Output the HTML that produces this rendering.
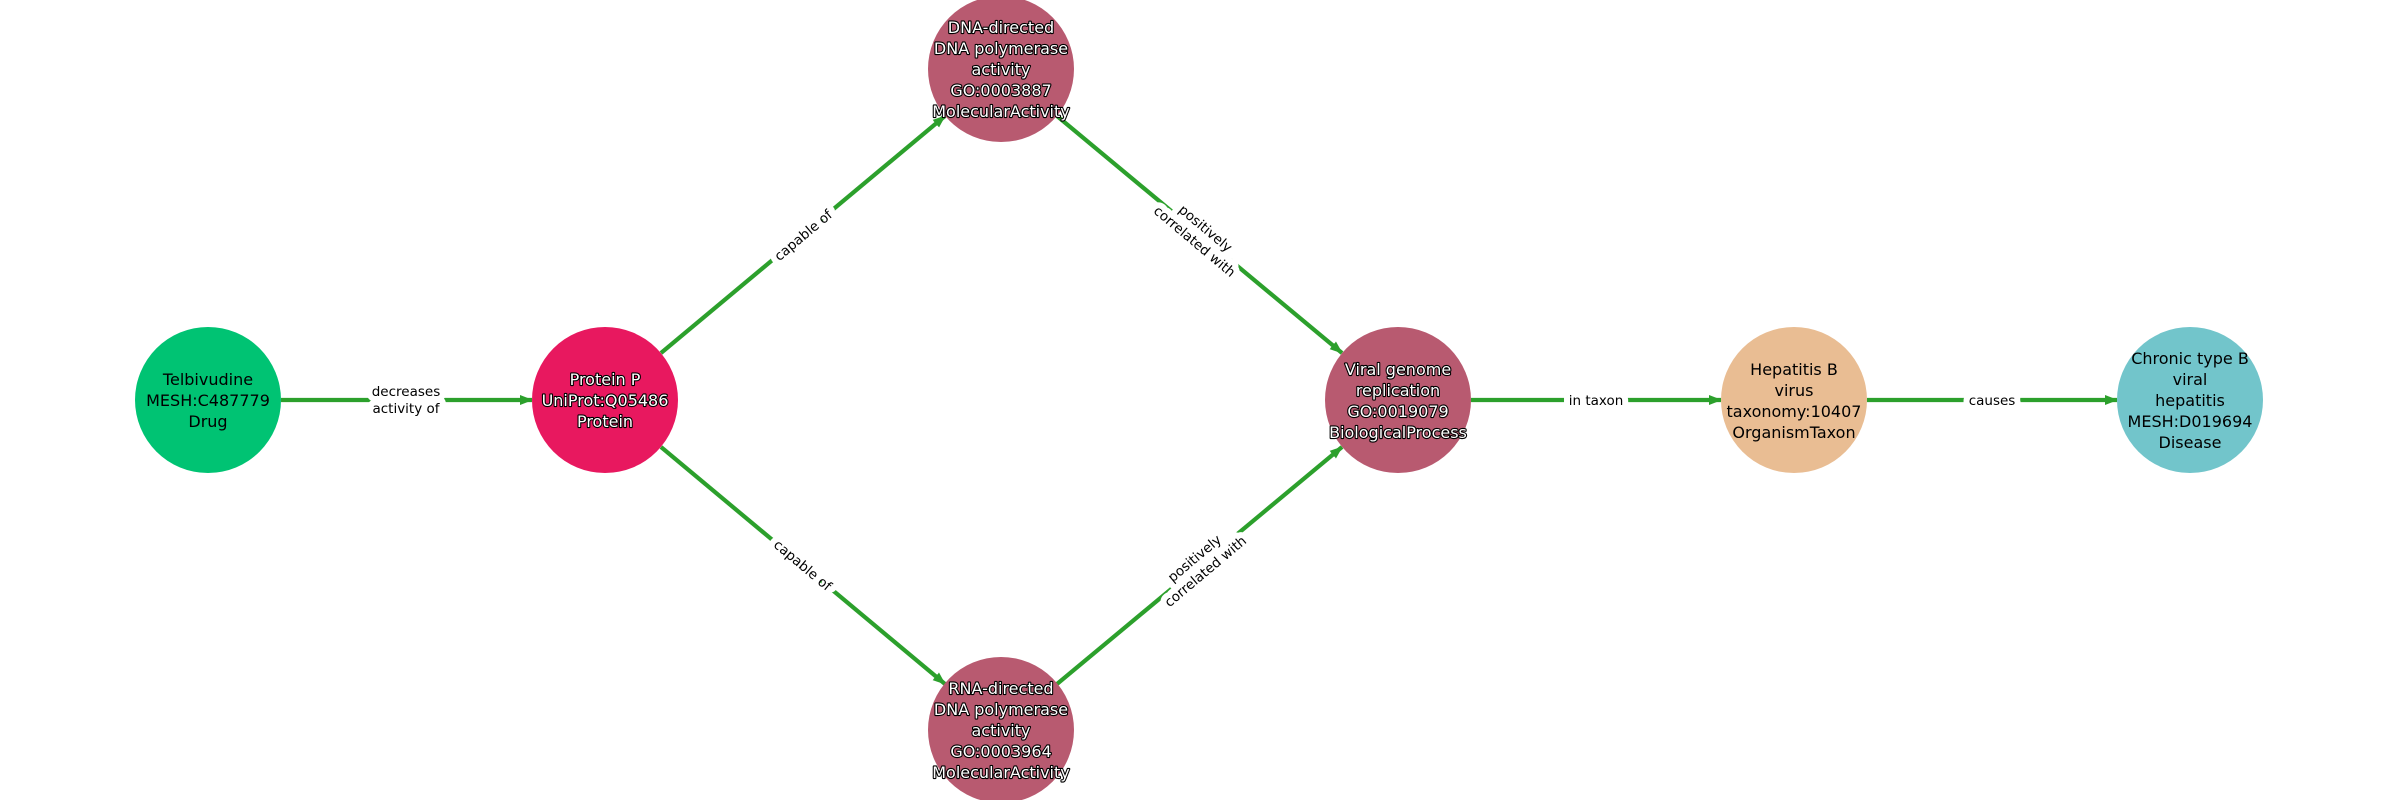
<!DOCTYPE html>
<html><head><meta charset="utf-8"><style>
html,body{margin:0;padding:0;background:#fff;}
svg{display:block;}
.n{font-family:"DejaVu Sans","Liberation Sans",sans-serif;font-size:16px;text-anchor:middle;}
.w{fill:#fff;stroke:#000;stroke-width:2.2px;paint-order:stroke;stroke-linejoin:round;}
.b{fill:#000;}
.e{font-family:"DejaVu Sans","Liberation Sans",sans-serif;font-size:13.5px;text-anchor:middle;fill:#000;stroke:#fff;stroke-width:12px;paint-order:stroke;stroke-linejoin:round;}
line{stroke:#2ca02c;stroke-width:4.2;}
</style></head><body>
<svg width="2400" height="800" viewBox="0 0 2400 800" xmlns="http://www.w3.org/2000/svg">
<defs><marker id="a" markerWidth="13" markerHeight="10" refX="12" refY="5" orient="auto" markerUnits="userSpaceOnUse"><path d="M0,0 L13,5 L0,10 z" fill="#2ca02c"/></marker></defs>
<line x1="281" y1="400" x2="532" y2="400" marker-end="url(#a)"/>
<line x1="661" y1="353" x2="945" y2="116" marker-end="url(#a)"/>
<line x1="661" y1="447" x2="945" y2="684" marker-end="url(#a)"/>
<line x1="1057" y1="116" x2="1342" y2="353" marker-end="url(#a)"/>
<line x1="1057" y1="684" x2="1342" y2="447" marker-end="url(#a)"/>
<line x1="1471" y1="400" x2="1721" y2="400" marker-end="url(#a)"/>
<line x1="1867" y1="400" x2="2117" y2="400" marker-end="url(#a)"/>

<text class="e" x="406" y="396">decreases</text>
<text class="e" x="406" y="413">activity of</text>
<g transform="translate(803,235) rotate(-40)"><text class="e" x="0" y="5">capable of</text></g>
<g transform="translate(803,565) rotate(40)"><text class="e" x="0" y="5">capable of</text></g>
<g transform="translate(1200,235) rotate(40)"><text class="e" x="0" y="-4">positively</text><text class="e" x="0" y="13">correlated with</text></g>
<g transform="translate(1200,565) rotate(-40)"><text class="e" x="0" y="-4">positively</text><text class="e" x="0" y="13">correlated with</text></g>
<text class="e" x="1596" y="405">in taxon</text>
<text class="e" x="1992" y="405">causes</text>

<circle cx="208" cy="400" r="73" fill="#00c373"/>
<circle cx="605" cy="400" r="73" fill="#e8185f"/>
<circle cx="1001" cy="69" r="73" fill="#b85a70"/>
<circle cx="1001" cy="730" r="73" fill="#b85a70"/>
<circle cx="1398" cy="400" r="73" fill="#b85a70"/>
<circle cx="1794" cy="400" r="73" fill="#e9bd93"/>
<circle cx="2190" cy="400" r="73" fill="#72c5cb"/>

<text class="n b" x="208" y="385">Telbivudine</text>
<text class="n b" x="208" y="406">MESH:C487779</text>
<text class="n b" x="208" y="427">Drug</text>

<text class="n w" x="605" y="385">Protein P</text>
<text class="n w" x="605" y="406">UniProt:Q05486</text>
<text class="n w" x="605" y="427">Protein</text>

<text class="n w" x="1001" y="33">DNA-directed</text>
<text class="n w" x="1001" y="54">DNA polymerase</text>
<text class="n w" x="1001" y="75">activity</text>
<text class="n w" x="1001" y="96">GO:0003887</text>
<text class="n w" x="1001" y="117">MolecularActivity</text>

<text class="n w" x="1001" y="694">RNA-directed</text>
<text class="n w" x="1001" y="715">DNA polymerase</text>
<text class="n w" x="1001" y="736">activity</text>
<text class="n w" x="1001" y="757">GO:0003964</text>
<text class="n w" x="1001" y="778">MolecularActivity</text>

<text class="n w" x="1398" y="375">Viral genome</text>
<text class="n w" x="1398" y="396">replication</text>
<text class="n w" x="1398" y="417">GO:0019079</text>
<text class="n w" x="1398" y="438">BiologicalProcess</text>

<text class="n b" x="1794" y="375">Hepatitis B</text>
<text class="n b" x="1794" y="396">virus</text>
<text class="n b" x="1794" y="417">taxonomy:10407</text>
<text class="n b" x="1794" y="438">OrganismTaxon</text>

<text class="n b" x="2190" y="364">Chronic type B</text>
<text class="n b" x="2190" y="385">viral</text>
<text class="n b" x="2190" y="406">hepatitis</text>
<text class="n b" x="2190" y="427">MESH:D019694</text>
<text class="n b" x="2190" y="448">Disease</text>
</svg>
</body></html>
